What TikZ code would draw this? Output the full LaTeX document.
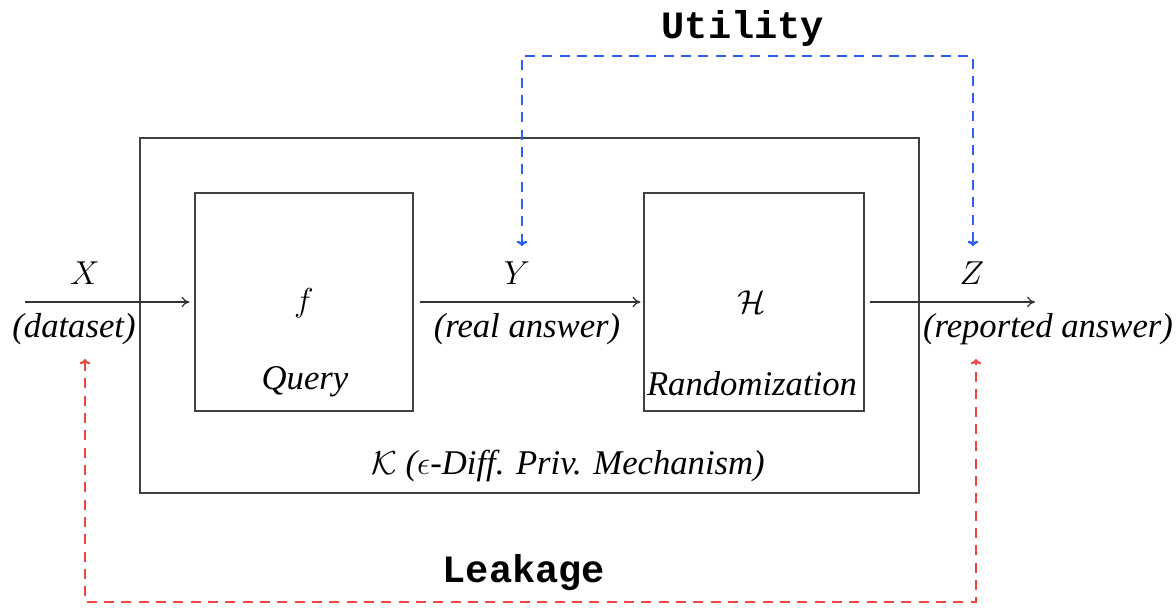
\documentclass[tikz,border=0pt]{standalone}
\usepackage{fontspec}
\setmainfont{Liberation Serif}
\newfontfamily\codefont{Liberation Mono}
\usetikzlibrary{arrows.meta}
\definecolor{utilblue}{RGB}{45,95,245}
\definecolor{leakred}{RGB}{240,70,65}
\begin{document}
\begin{tikzpicture}[x=0.75pt,y=-0.75pt,
  boxst/.style={draw=black!75,line width=1.3pt,inner sep=0pt},
  flow/.style={draw=black!80,line width=0.9pt,-{To[length=6pt,width=8pt]}},
  util/.style={draw=utilblue,line width=1.8pt,dash pattern=on 7.5pt off 5.5pt,{To[length=4pt,width=8pt]}-{To[length=4pt,width=8pt]}},
  leak/.style={draw=leakred,line width=1.6pt,dash pattern=on 7.5pt off 5.5pt,{To[length=4pt,width=8pt]}-{To[length=4pt,width=8pt]}},
  mathlab/.style={font=\fontsize{30}{34}\selectfont,inner sep=0pt},
  txtlab/.style={font=\fontsize{26}{30}\selectfont\itshape,inner sep=0pt},
  codelab/.style={font=\fontsize{29}{34}\selectfont\codefont\bfseries,inner sep=0pt}]
\useasboundingbox (0,0) rectangle (1176,607);
% boxes
\node[boxst,minimum width=584.25pt,minimum height=266.25pt] (K) at (529.5,315.5) {};
\node[boxst,minimum width=163.5pt,minimum height=163.5pt] (f) at (304,302) {};
\node[boxst,minimum width=165pt,minimum height=163.5pt] (H) at (754,302) {};
% box contents
\node[mathlab] (fsym) at (304,303) {$f$};
\node[txtlab] (query) at (305,382) {Query};
\node[mathlab] (Hsym) at (752,302) {$\mathcal{H}$};
\node[txtlab] (rand) at (752,384) {Randomization};
\node[txtlab] (Klab) at (568,466) {{\fontsize{30}{34}\selectfont$\mathcal{K}$} ($\epsilon$-Diff. Priv. Mechanism)};
% flow
\coordinate (xin) at (25,302);
\coordinate (zout) at (1035,302);
\draw[flow,shorten >=3.5pt] (xin) -- (f.west);
\draw[flow,shorten <=4.5pt,shorten >=2pt] (f.east) -- (H.west);
\draw[flow,shorten <=4pt] (H.east) -- (zout);
\node[mathlab] (X) at (85,273) {$X$};
\node[txtlab] (Xd) at (74,329) {(dataset)};
\node[mathlab] (Y) at (517,273) {$Y$};
\node[txtlab] (Yd) at (527,329) {(real answer)};
\node[mathlab] (Z) at (972,273) {$Z$};
\node[txtlab] (Zd) at (1048,329) {(reported answer)};
% utility
\coordinate (uY) at (522,246);
\coordinate (uZ) at (973,246);
\draw[util] (uY) -- (522,56) -- (973,56) -- (uZ);
\node[codelab] (U) at (743,29) {Utility};
% leakage
\coordinate (lX) at (85,359);
\coordinate (lZ) at (976,359);
\draw[leak] (lX) -- (85,602) -- (976,602) -- (lZ);
\node[codelab] (L) at (524,573) {Leakage};
\end{tikzpicture}
\end{document}
